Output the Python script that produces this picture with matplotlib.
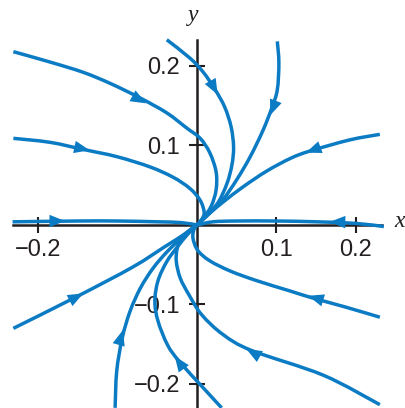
import numpy as np
import matplotlib
matplotlib.use("Agg")
import matplotlib.pyplot as plt
from matplotlib.path import Path
from matplotlib.patches import PathPatch

# Phase-plane trajectories (x, y), each listed from its start toward the origin
traj_upper_left_high = [(-0.231, 0.218), (-0.185, 0.205), (-0.143, 0.192), (-0.109, 0.178),
                        (-0.072, 0.160), (-0.038, 0.141), (-0.013, 0.122), (0.004, 0.109),
                        (0.016, 0.091), (0.024, 0.067), (0.024, 0.044), (0.018, 0.024),
                        (0.008, 0.009), (0.0, 0.0)]
traj_upper_left_low = [(-0.231, 0.109), (-0.185, 0.104), (-0.143, 0.095), (-0.101, 0.086),
                       (-0.059, 0.073), (-0.030, 0.060), (-0.009, 0.046), (0.004, 0.031),
                       (0.009, 0.016), (0.006, 0.007), (0.0, 0.0)]
traj_top_inner = [(-0.038, 0.233), (-0.009, 0.210), (0.008, 0.192), (0.023, 0.170),
                  (0.035, 0.148), (0.043, 0.123), (0.046, 0.098), (0.044, 0.076),
                  (0.038, 0.053), (0.027, 0.029), (0.013, 0.013), (0.0, 0.0)]
traj_top_outer = [(0.101, 0.231), (0.103, 0.204), (0.101, 0.170), (0.094, 0.147),
                  (0.083, 0.119), (0.067, 0.086), (0.050, 0.057), (0.032, 0.031),
                  (0.014, 0.013), (0.0, 0.0)]
traj_upper_right = [(0.230, 0.114), (0.192, 0.107), (0.142, 0.093), (0.118, 0.084),
                    (0.088, 0.068), (0.058, 0.048), (0.033, 0.029), (0.015, 0.014), (0.0, 0.0)]
traj_axis_right = [(0.235, -0.002), (0.200, 0.002), (0.150, 0.004), (0.100, 0.005),
                   (0.050, 0.005), (0.020, 0.004), (0.0, 0.0)]
traj_axis_left = [(-0.232, 0.004), (-0.150, 0.005), (-0.100, 0.005), (-0.050, 0.004),
                  (-0.020, 0.003), (0.0, 0.0)]
traj_lower_right_high = [(0.230, -0.116), (0.186, -0.103), (0.146, -0.092), (0.117, -0.083),
                         (0.075, -0.070), (0.042, -0.058), (0.016, -0.045), (0.001, -0.032),
                         (-0.005, -0.017), (-0.004, -0.006), (0.0, 0.0)]
traj_lower_right_low = [(0.230, -0.226), (0.159, -0.189), (0.069, -0.158), (0.033, -0.138),
                        (0.006, -0.113), (-0.010, -0.088), (-0.021, -0.067), (-0.026, -0.046),
                        (-0.025, -0.030), (-0.020, -0.018), (-0.011, -0.008), (0.0, 0.0)]
traj_bottom_inner = [(0.031, -0.230), (0.008, -0.205), (-0.022, -0.172), (-0.037, -0.151),
                     (-0.049, -0.121), (-0.053, -0.096), (-0.049, -0.070), (-0.038, -0.046),
                     (-0.025, -0.028), (-0.012, -0.012), (0.0, 0.0)]
traj_bottom_outer = [(-0.103, -0.230), (-0.101, -0.184), (-0.094, -0.142), (-0.084, -0.108),
                     (-0.071, -0.079), (-0.055, -0.054), (-0.037, -0.033), (-0.017, -0.014),
                     (0.0, 0.0)]
traj_lower_left = [(-0.231, -0.130), (-0.151, -0.090), (-0.081, -0.053), (-0.040, -0.027),
                   (-0.018, -0.013), (0.0, 0.0)]

trajectories = [traj_upper_left_high, traj_upper_left_low, traj_top_inner, traj_top_outer,
                traj_upper_right, traj_axis_right, traj_axis_left, traj_lower_right_high,
                traj_lower_right_low, traj_bottom_inner, traj_bottom_outer, traj_lower_left]

# Arrowhead tip on each trajectory (same order as above)
arrow_tips = [(-0.064, 0.153), (-0.135, 0.094), (0.026, 0.164), (0.092, 0.138),
              (0.137, 0.091), (0.167, 0.004), (-0.166, 0.005), (0.140, -0.089),
              (0.062, -0.156), (-0.028, -0.165), (-0.093, -0.132), (-0.143, -0.086)]

x_ticks = [-0.2, 0.1, 0.2]
x_tick_labels = ["\u22120.2", "0.1", "0.2"]
y_ticks = [-0.2, -0.1, 0.1, 0.2]
y_tick_labels = ["\u22120.2", "\u22120.1", "0.1", "0.2"]

BLUE = "#0b7bc4"
INK = "#231f20"


def smooth_path(points):
    """Cubic Bezier path passing through every point (Catmull-Rom tangents)."""
    p = np.asarray(points, dtype=float)
    ext = np.vstack([p[0], p, p[-1]])
    verts = [p[0]]
    codes = [Path.MOVETO]
    for i in range(len(p) - 1):
        p0, p1, p2, p3 = ext[i], ext[i + 1], ext[i + 2], ext[i + 3]
        verts += [p1 + (p2 - p0) / 6.0, p2 - (p3 - p1) / 6.0, p2]
        codes += [Path.CURVE4] * 3
    return Path(verts, codes)


fig = plt.figure(figsize=(4.06, 4.08), dpi=100)
ax = fig.add_axes([0, 0, 1, 1])
ax.set_xlim(-0.2478, 0.2629)
ax.set_ylim(-0.2302, 0.2830)

for traj in trajectories:
    ax.add_patch(PathPatch(smooth_path(traj), facecolor="none", edgecolor=BLUE,
                           lw=2.5, zorder=3, joinstyle="round", capstyle="butt"))

# Arrowheads oriented along the local direction of each trajectory
for traj, tip in zip(trajectories, arrow_tips):
    pts = np.array(traj)
    tip = np.array(tip)
    d = np.hypot(pts[:, 0] - tip[0], pts[:, 1] - tip[1])
    i = int(np.argmin(d[:-1]))
    seg = pts[i + 1] - pts[i]
    seg = seg / np.hypot(*seg)
    ax.annotate("", xy=tuple(tip), xytext=tuple(tip - 0.02 * seg),
                arrowprops=dict(arrowstyle="-|>,head_length=0.7,head_width=0.28",
                                mutation_scale=16, color=BLUE, lw=0,
                                shrinkA=0, shrinkB=0),
                zorder=4)

# Axes through the origin
for side in ("top", "right"):
    ax.spines[side].set_visible(False)
ax.spines["left"].set_position(("data", 0))
ax.spines["bottom"].set_position(("data", 0))
ax.spines["left"].set_bounds(-0.24, 0.2327)
ax.spines["bottom"].set_bounds(-0.2314, 0.2327)
for side in ("left", "bottom"):
    ax.spines[side].set_linewidth(1.8)
    ax.spines[side].set_color(INK)

tick_font = dict(family="Liberation Sans", size=17)
ax.set_xticks(x_ticks)
ax.set_xticklabels(x_tick_labels, fontdict=tick_font, color=INK)
ax.set_yticks(y_ticks)
ax.set_yticklabels(y_tick_labels, fontdict=tick_font, color=INK)
ax.tick_params(axis="both", direction="inout", length=12, width=1.5, color=INK)
ax.tick_params(axis="x", pad=4)
ax.tick_params(axis="y", pad=6)

ax.text(0.255, 0.004, "x", fontsize=17, family="Liberation Serif", style="italic",
        color=INK, ha="center", va="center")
ax.text(-0.005, 0.264, "y", fontsize=17, family="Liberation Serif", style="italic",
        color=INK, ha="center", va="center")

ax.set_facecolor("white")
fig.savefig("out.png", dpi=100, facecolor="white")
